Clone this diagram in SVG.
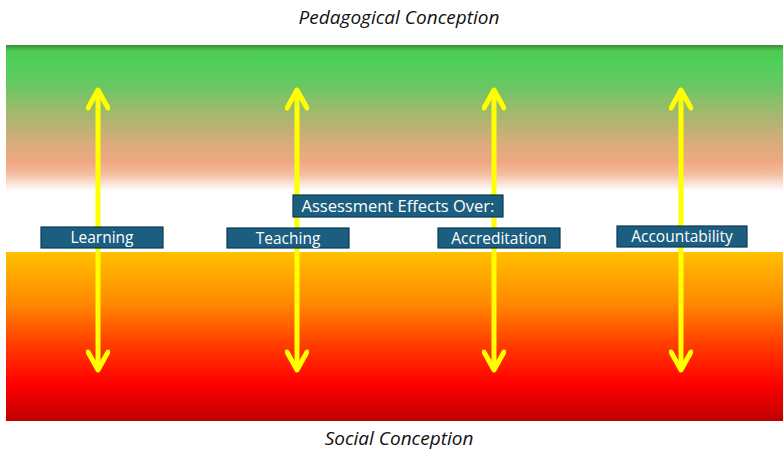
<svg xmlns="http://www.w3.org/2000/svg" width="783" height="453" viewBox="0 0 783 453">
  <defs>
    <linearGradient id="gTop" x1="0" y1="0" x2="0" y2="1">
      <stop offset="0" stop-color="#3d8a35"/>
      <stop offset="0.04" stop-color="#4ccb52"/>
      <stop offset="0.12" stop-color="#50d05a"/>
      <stop offset="0.27" stop-color="#66c862"/>
      <stop offset="0.42" stop-color="#95bc6b"/>
      <stop offset="0.57" stop-color="#bdb274"/>
      <stop offset="0.7" stop-color="#dfab7e"/>
      <stop offset="0.8" stop-color="#f0a882"/>
      <stop offset="0.88" stop-color="#f3bc9f"/>
      <stop offset="1" stop-color="#ffffff"/>
    </linearGradient>
    <linearGradient id="gBot" x1="0" y1="0" x2="0" y2="1">
      <stop offset="0" stop-color="#ffc000"/>
      <stop offset="0.3" stop-color="#ff8a00"/>
      <stop offset="0.55" stop-color="#ff3c00"/>
      <stop offset="0.78" stop-color="#ff0000"/>
      <stop offset="1" stop-color="#c00000"/>
    </linearGradient>
    <marker id="ah" viewBox="0 0 24 24" refX="19" refY="12" markerWidth="24" markerHeight="24" markerUnits="userSpaceOnUse" orient="auto-start-reverse">
      <path d="M3 2 L21 12 L3 22" fill="none" stroke="#ffff00" stroke-width="5" stroke-linecap="round" stroke-linejoin="round"/>
    </marker>
  </defs>
  <style>
    .lbl rect { fill: #1b5e80; stroke: #0d3a52; stroke-width: 1.2; }
    .lbl text { fill: #ffffff; font-family: "Open Sans", "Liberation Sans", sans-serif; font-size: 15.5px; text-anchor: middle; }
    .arr { stroke: #ffff00; stroke-width: 5; fill: none; }
    .title { font-family: "Open Sans", "Liberation Sans", sans-serif; font-style: italic; font-size: 19px; text-anchor: middle; fill: #111111; }
  </style>
  <rect x="0" y="0" width="783" height="453" fill="#ffffff"/>
  <g id="bands">
    <rect x="6" y="45" width="777" height="146" fill="url(#gTop)"/>
    <rect x="6" y="252" width="777" height="169" fill="url(#gBot)"/>
  </g>
  <text class="title" x="399" y="24">Pedagogical Conception</text>
  <text class="title" x="399" y="445">Social Conception</text>
  <g id="connectors">
    <line class="arr" x1="98" y1="92" x2="98" y2="368" marker-start="url(#ah)" marker-end="url(#ah)"/>
    <line class="arr" x1="297" y1="92" x2="297" y2="368" marker-start="url(#ah)" marker-end="url(#ah)"/>
    <line class="arr" x1="494" y1="92" x2="494" y2="368" marker-start="url(#ah)" marker-end="url(#ah)"/>
    <line class="arr" x1="681" y1="92" x2="681" y2="368" marker-start="url(#ah)" marker-end="url(#ah)"/>
  </g>
  <g id="assessment" class="lbl">
    <rect x="293" y="195" width="210" height="22"/>
    <text x="398" y="211.5" style="font-size:16.5px">Assessment Effects Over:</text>
  </g>
  <g id="learning" class="lbl">
    <rect x="41" y="227" width="122" height="21"/>
    <text x="102" y="243">Learning</text>
  </g>
  <g id="teaching" class="lbl">
    <rect x="227" y="228" width="122" height="20"/>
    <text x="288" y="243.5">Teaching</text>
  </g>
  <g id="accreditation" class="lbl">
    <rect x="438" y="228" width="122" height="20"/>
    <text x="499" y="243.5">Accreditation</text>
  </g>
  <g id="accountability" class="lbl">
    <rect x="617" y="226" width="130" height="21"/>
    <text x="682" y="242">Accountability</text>
  </g>
</svg>
